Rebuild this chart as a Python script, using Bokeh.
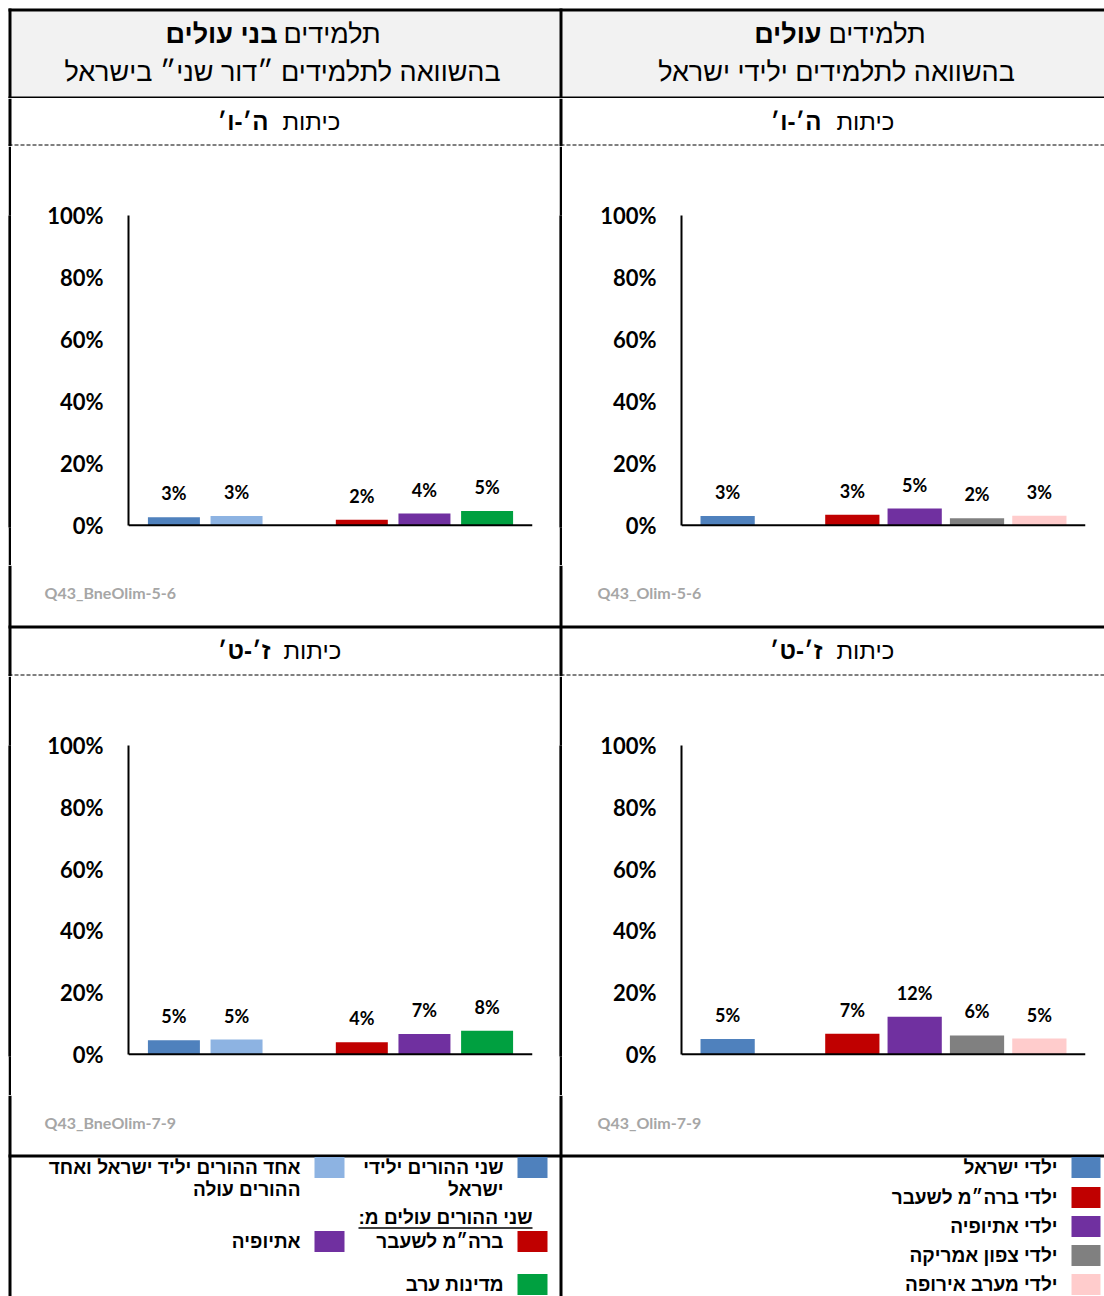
from bokeh.plotting import figure
from bokeh.models import Range1d, FactorRange, ColumnDataSource, Span, FixedTicker
from bokeh.layouts import row, column
from bokeh.core.properties import value
from bokeh.embed import file_html
from bokeh.resources import INLINE

# ---------------- data ----------------
tick_values = [0, 20, 40, 60, 80, 100]
tick_labels = ["0%", "20%", "40%", "60%", "80%", "100%"]

bne_categories = ["שני ההורים ילידי ישראל", "אחד ההורים יליד ישראל ואחד ההורים עולה",
                  "ברה״מ לשעבר", "אתיופיה", "מדינות ערב"]
bne_groups = ["ישראל", "ישראל", "עולים", "עולים", "עולים"]
bne_colors = ["#4f81bd", "#8db3e2", "#c00000", "#7030a0", "#00a040"]
bne_5_6 = [2.6, 3.0, 1.8, 3.8, 4.6]
bne_7_9 = [4.6, 4.8, 3.9, 6.6, 7.6]

olim_categories = ["ילדי ישראל", "ילדי ברה״מ לשעבר", "ילדי אתיופיה",
                   "ילדי צפון אמריקה", "ילדי מערב אירופה"]
olim_groups = ["ישראל", "עולים", "עולים", "עולים", "עולים"]
olim_colors = ["#4f81bd", "#c00000", "#7030a0", "#808080", "#ffcccc"]
olim_5_6 = [3.0, 3.4, 5.4, 2.3, 3.1]
olim_7_9 = [5.0, 6.7, 12.2, 6.1, 5.1]

notes = {"bne56": "Q43_BneOlim-5-6", "olim56": "Q43_Olim-5-6",
         "bne79": "Q43_BneOlim-7-9", "olim79": "Q43_Olim-7-9"}

head_left = ("תלמידים", "בני עולים", "בהשוואה לתלמידים ״דור שני״ בישראל")
head_right = ("תלמידים", "עולים", "בהשוואה לתלמידים ילידי ישראל")
grade_top = ("כיתות", "ה׳-ו׳")
grade_bottom = ("כיתות", "ז׳-ט׳")

bne_legend_lines = [["שני ההורים ילידי", "ישראל"], ["אחד ההורים יליד ישראל ואחד", "ההורים עולה"],
                    ["ברה״מ לשעבר"], ["אתיופיה"], ["מדינות ערב"]]
bne_legend_header = "שני ההורים עולים מ:\u200f"

HEB = value("Liberation Sans")
NUM = value("Lato")
W = 1104
DIV_L, DIV_R = 559, 562
BORDER = 8
GRAY_HEAD = "#f2f2f2"


def band(y0, y1):
    """Full-width strip drawn in page pixel coordinates."""
    p = figure(width=W, height=y1 - y0, x_range=Range1d(0, W), y_range=Range1d(y1, y0),
               x_axis_location=None, y_axis_location=None, toolbar_location=None,
               output_backend="svg", min_border=0, outline_line_color=None,
               background_fill_color="white", border_fill_color="white")
    p.grid.visible = False
    return p


def rect(p, l, r, t, b, color):
    p.quad(left=[l], right=[r], top=[t], bottom=[b], fill_color=color, line_color=None)


def txt(p, x, y, s, align="center", bold=False, size="24px", font=HEB, color="black"):
    p.text(x=[x], y=[y], text=[s], text_align=align, text_baseline="middle",
           text_font=font, text_font_style="bold" if bold else "normal",
           text_font_size=size, text_color=color)


def borders(p, y0, y1):
    rect(p, BORDER, BORDER + 3, max(y0, BORDER), y1, "black")
    rect(p, DIV_L, DIV_R, max(y0, BORDER), y1, "black")


def hline(p, y0, y1):
    rect(p, BORDER, W, y0, y1, "black")


def mixed(p, bold_right, reg_left, y, regular, bold, size):
    # regular word on the right, bold part on its left (RTL reading)
    txt(p, reg_left, y, regular, align="left", bold=False, size=size)
    txt(p, bold_right, y, bold, align="right", bold=True, size=size)


def note(p, x, y, s):
    txt(p, x, y, s, align="left", bold=True, size="16px", font=NUM, color="#a6a6a6")


# ---------------- header (0..98) ----------------
head = band(0, 98)
rect(head, BORDER + 3, DIV_L, 11, 96, GRAY_HEAD)
rect(head, DIV_R, W, 11, 96, GRAY_HEAD)
hline(head, BORDER, 11)
hline(head, 96, 98)
borders(head, 0, 98)
mixed(head, 277, 283, 33, head_left[0], head_left[1], "27px")
txt(head, 282, 71, head_left[2], size="27px")
mixed(head, 821, 828, 33, head_right[0], head_right[1], "27px")
txt(head, 836, 71, head_right[2], size="27px")

# ---------------- grade row 1 (98..146) ----------------
sub1 = band(98, 146)
sub1.segment(x0=[BORDER], y0=[144.5], x1=[W], y1=[144.5], line_color="black",
             line_width=1, line_dash="4 2")
borders(sub1, 98, 146)
mixed(sub1, 268, 282, 121, grade_top[0], grade_top[1], "24px")
mixed(sub1, 821, 836, 121, grade_top[0], grade_top[1], "24px")

# ---------------- notes + grade row 2 (565..676) ----------------
sub2 = band(565, 676)
sub2.segment(x0=[BORDER], y0=[674.5], x1=[W], y1=[674.5], line_color="black",
             line_width=1, line_dash="4 2")
hline(sub2, 625, 628)
borders(sub2, 565, 676)
note(sub2, 44, 592, notes["bne56"])
note(sub2, 597, 592, notes["olim56"])
mixed(sub2, 270, 283, 650, grade_bottom[0], grade_bottom[1], "24px")
mixed(sub2, 822, 836, 650, grade_bottom[0], grade_bottom[1], "24px")


# ---------------- charts ----------------
def chart(cats, groups, colors, vals, w, h, ml, mr, mt, mb, bw, pad):
    factors = list(zip(groups, cats))
    xr = FactorRange(*factors, group_padding=1.0, range_padding=pad,
                     range_padding_units="absolute")
    p = figure(width=w, height=h, x_range=xr, y_range=Range1d(-0.7, 100),
               x_axis_location=None, toolbar_location=None, output_backend="svg",
               min_border_left=ml, min_border_right=mr, min_border_top=mt,
               min_border_bottom=mb, outline_line_color=None)
    p.grid.visible = False
    src = ColumnDataSource(dict(x=factors, top=vals, color=colors,
                                label=[f"{round(v)}%" for v in vals]))
    p.vbar(x="x", top="top", bottom=0, width=bw, fill_color="color",
           line_color=None, source=src)
    p.text(x="x", y="top", text="label", y_offset=-24, text_align="center",
           text_baseline="middle", text_font=NUM, text_font_style="bold",
           text_font_size="18px", text_color="black", source=src)
    ax = p.yaxis[0]
    ax.ticker = FixedTicker(ticks=tick_values)
    ax.major_label_overrides = {float(k): v for k, v in zip(tick_values, tick_labels)}
    ax.bounds = (0, 100)
    ax.axis_line_color = "black"
    ax.axis_line_width = 2
    ax.major_tick_line_color = None
    ax.minor_tick_line_color = None
    ax.major_tick_out = 0
    ax.major_tick_in = 0
    ax.major_label_standoff = 25
    ax.major_label_text_font = "Lato"
    ax.major_label_text_font_style = "bold"
    ax.major_label_text_font_size = "22px"
    ax.major_label_text_color = "black"
    p.add_layout(Span(location=0, dimension="width", line_color="black", line_width=2))
    return p


def solid(w, h, color):
    p = figure(width=w, height=h, x_range=Range1d(0, 1), y_range=Range1d(0, 1),
               x_axis_location=None, y_axis_location=None, toolbar_location=None,
               output_backend="svg", min_border=0, outline_line_color=None,
               background_fill_color=color, border_fill_color=color)
    p.grid.visible = False
    p.quad(left=[0], right=[1], top=[1], bottom=[0], fill_color=color, line_color=None)
    return p


LW = DIV_L - (BORDER + 3)   # 548
RW = W - DIV_R              # 542

c_bne56 = chart(bne_categories, bne_groups, bne_colors, bne_5_6, LW, 419, 117, 27, 69, 38, 0.83, 0.225)
c_olim56 = chart(olim_categories, olim_groups, olim_colors, olim_5_6, RW, 419, 119, 19, 61, 30, 0.87, 0.24)
c_bne79 = chart(bne_categories, bne_groups, bne_colors, bne_7_9, LW, 419, 117, 27, 69, 39, 0.83, 0.225)
c_olim79 = chart(olim_categories, olim_groups, olim_colors, olim_7_9, RW, 419, 119, 19, 61, 31, 0.87, 0.24)

row1 = row(solid(8, 419, "white"), solid(3, 419, "black"), c_bne56,
           solid(3, 419, "black"), c_olim56)
row2 = row(solid(8, 419, "white"), solid(3, 419, "black"), c_bne79,
           solid(3, 419, "black"), c_olim79)

# ---------------- notes + legend (1095..1296) ----------------
leg = band(1095, 1296)
hline(leg, 1154, 1157)
borders(leg, 1095, 1296)
note(leg, 44, 1122, notes["bne79"])
note(leg, 597, 1122, notes["olim79"])
LEG_SIZE = "19px"
bne_pos = [(517, 1167), (314, 1167), (517, 1241), (314, 1241), (517, 1284)]
for (sx, sy), col, lines in zip(bne_pos, bne_colors, bne_legend_lines):
    rect(leg, sx, sx + 30, sy - 10.5, sy + 10.5, col)
    for k, ln in enumerate(lines):
        txt(leg, sx - 14, sy + 22 * k, ln, align="right", bold=True, size=LEG_SIZE)
txt(leg, 532, 1217, bne_legend_header, align="right", bold=True, size=LEG_SIZE)
leg.segment(x0=[358], y0=[1227.5], x1=[532], y1=[1227.5], line_color="black", line_width=1.5)
olim_rows = [1167, 1197, 1226, 1255, 1284]
for yy, col, name in zip(olim_rows, olim_colors, olim_categories):
    rect(leg, 1071, 1100, yy - 10.5, yy + 10.5, col)
    txt(leg, 1057, yy, name, align="right", bold=True, size=LEG_SIZE)

layout = column(head, sub1, row1, sub2, row2, leg)

open("out.html", "w").write(file_html(layout, INLINE, title="Q43"))
